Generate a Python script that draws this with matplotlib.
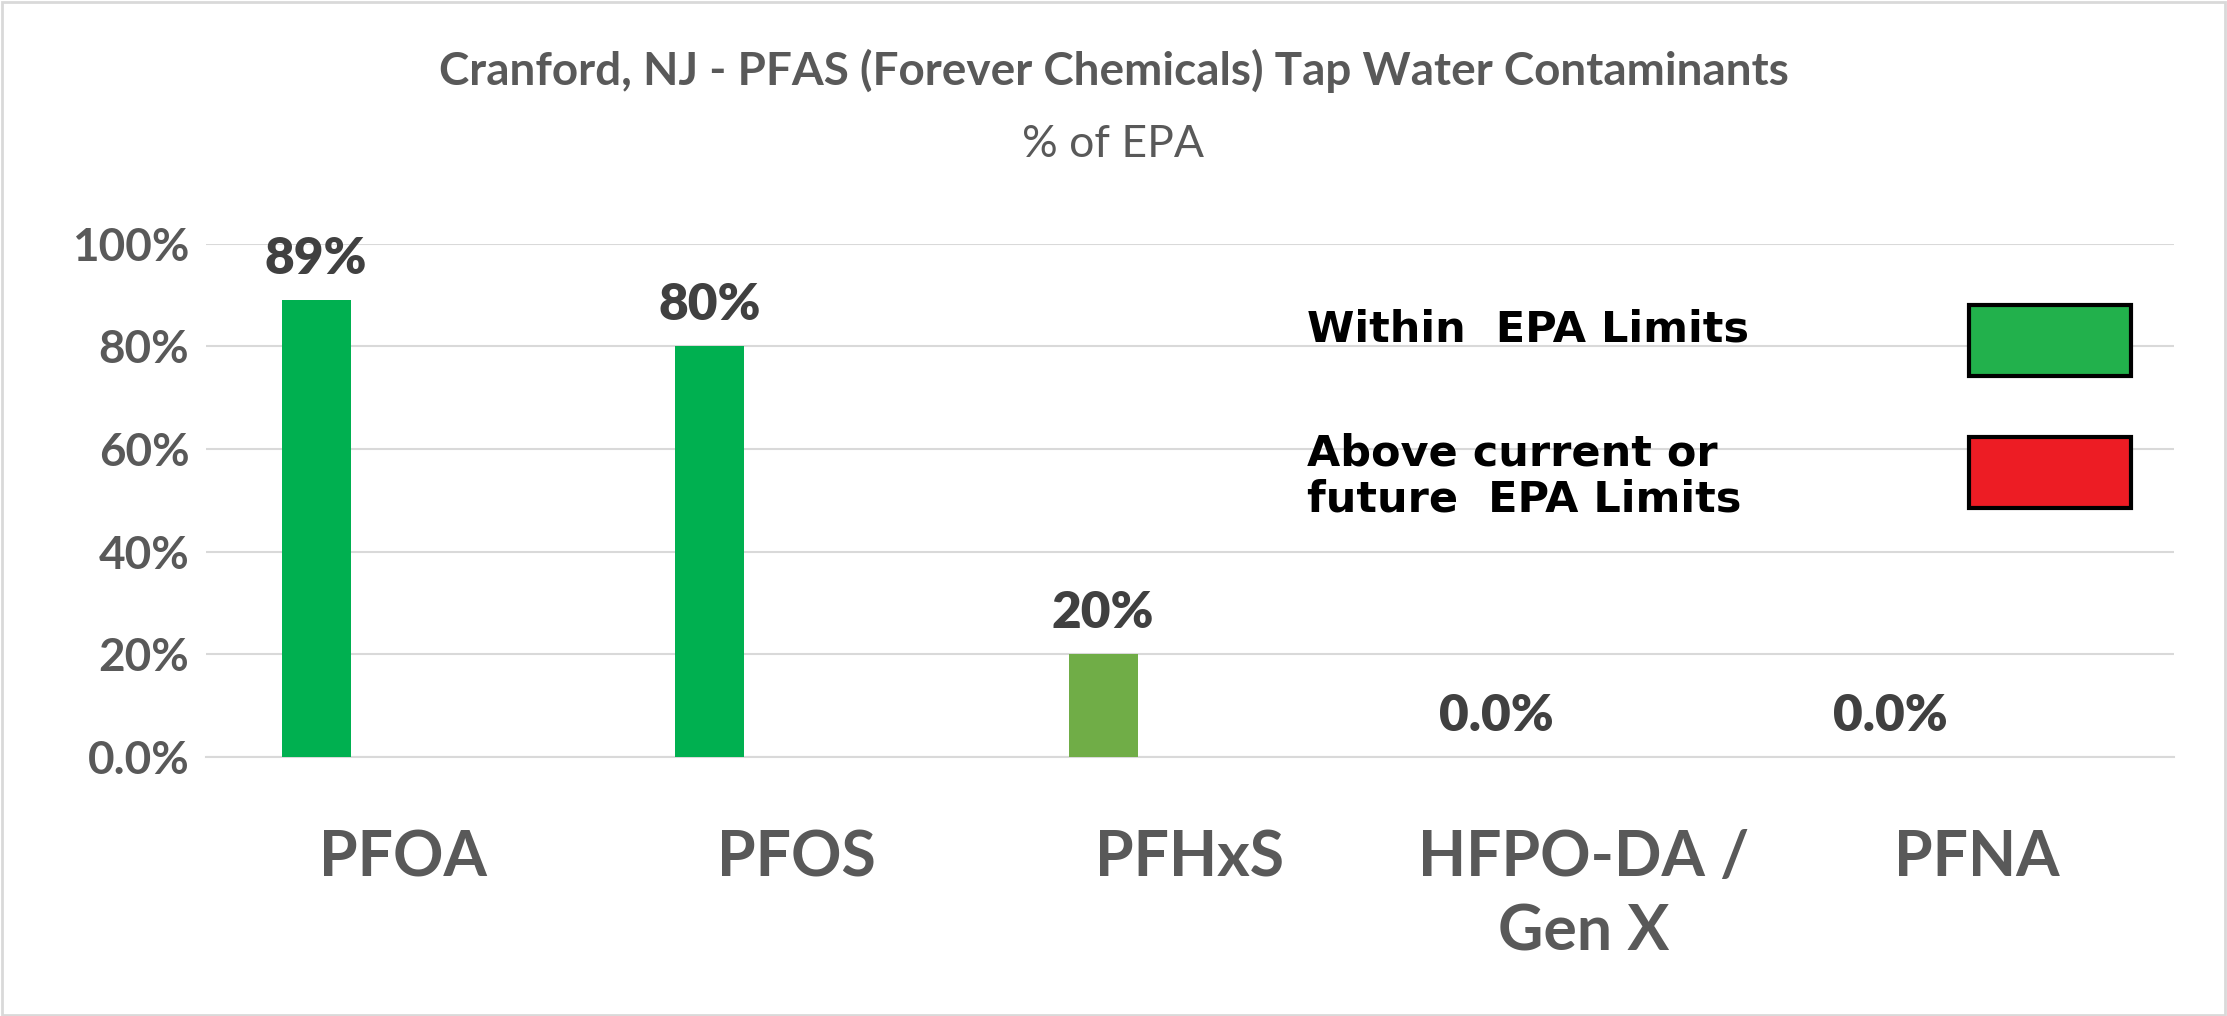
import matplotlib.pyplot as plt
from matplotlib.patches import Rectangle

categories = ["PFOA", "PFOS", "PFHxS", "HFPO-DA /\nGen X", "PFNA"]
values = [0.89, 0.80, 0.20, 0.0, 0.0]
labels = ["89%", "80%", "20%", "0.0%", "0.0%"]
colors = ["#00B050", "#00B050", "#70AD47", "#00B050", "#00B050"]
yticks = [0, 0.2, 0.4, 0.6, 0.8, 1.0]
ytick_labels = ["0.0%", "20%", "40%", "60%", "80%", "100%"]

gray = "#595959"
plt.rcParams['font.family'] = ['Lato', 'DejaVu Sans']

fig = plt.figure(figsize=(22.27, 10.16), dpi=100)
ax = fig.add_axes([0.0925, 0.255, 0.8835, 0.505])

x = range(len(categories))
xs = [i - 0.22 for i in x]
ax.bar(xs, values, width=0.175, color=colors, zorder=3)
for xi, v, lab in zip(xs, values, labels):
    ax.text(xi, v + 0.035, lab, ha='center', va='bottom', fontsize=37,
            fontweight='heavy', color="#404040")

ax.set_xlim(-0.5, len(categories) - 0.5)
ax.set_ylim(0, 1.0)
ax.set_yticks(yticks)
ax.set_yticklabels(ytick_labels, fontsize=33, fontweight='bold', color=gray)
ax.set_xticks(list(x))
ax.set_xticklabels(categories, fontsize=45, fontweight='bold', color=gray,
                   linespacing=1.35, va='top')
ax.tick_params(length=0, pad=12)
ax.tick_params(axis='x', pad=52)
ax.grid(axis='y', color="#D9D9D9", linewidth=1.5, zorder=0)
for s in ax.spines.values():
    s.set_visible(False)
ax.spines['bottom'].set_visible(True)
ax.spines['bottom'].set_color("#D9D9D9")
ax.spines['bottom'].set_linewidth(1.5)

fig.text(0.5, 0.93, "Cranford, NJ - PFAS (Forever Chemicals) Tap Water Contaminants",
         ha='center', va='center', fontsize=33, fontweight='bold', color=gray)
fig.text(0.5, 0.858, "% of EPA", ha='center', va='center', fontsize=32, color=gray)

# legend
fig.text(0.587, 0.676, "Within  EPA Limits", ha='left', va='center', fontsize=31,
         fontweight='heavy', family='DejaVu Sans', color='black')
fig.text(0.587, 0.531, "Above current or\nfuture  EPA Limits", ha='left', va='center',
         fontsize=31, fontweight='heavy', family='DejaVu Sans', color='black',
         linespacing=1.1)
fig.patches.append(Rectangle((0.884, 0.63), 0.073, 0.07, transform=fig.transFigure,
                             facecolor="#22B14C", edgecolor='black', linewidth=3))
fig.patches.append(Rectangle((0.884, 0.50), 0.073, 0.07, transform=fig.transFigure,
                             facecolor="#ED1C24", edgecolor='black', linewidth=3))
fig.patches.append(Rectangle((0.001, 0.001), 0.998, 0.997, transform=fig.transFigure,
                             facecolor='none', edgecolor="#D9D9D9", linewidth=2))

fig.savefig("out.png", dpi=100)
